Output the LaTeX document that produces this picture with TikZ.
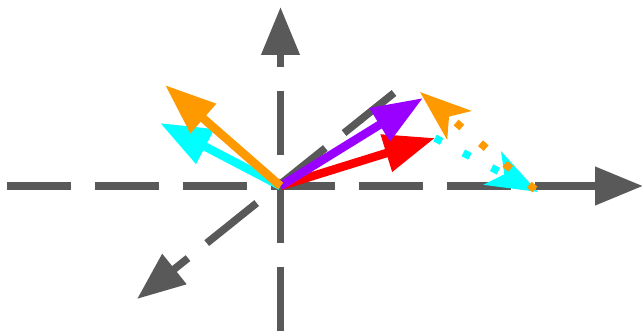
\documentclass[tikz,border=0pt]{standalone}
\usepackage{tikz}
\usetikzlibrary{arrows.meta}
\definecolor{axisgray}{RGB}{89,89,89}
\definecolor{vorange}{RGB}{255,153,0}
\definecolor{vcyan}{RGB}{0,255,255}
\definecolor{vpurple}{RGB}{153,0,255}
\definecolor{vred}{RGB}{255,0,0}
\tikzset{axis/.style={draw=axisgray,line width=7.5pt,dash pattern=on 64pt off 24pt,-{Triangle[length=48pt,width=37pt]}},
  vec/.style={line width=8.5pt,-{Triangle[length=51pt,width=37pt]}},
  dotvec/.style={line width=7.5pt,dash pattern=on 7.5pt off 24.5pt,-{Stealth[length=51pt,width=37pt,inset=13pt]}}}
\begin{document}
\begin{tikzpicture}[x=1pt,y=-1pt,line join=round]
\useasboundingbox (0,0) rectangle (643,331);
% --- axes
\coordinate (O) at (280.5,186);
\coordinate (xl) at (7,186); \coordinate (xr) at (643,186);
\coordinate (yb) at (280.5,331); \coordinate (yt) at (280.5,7);
\coordinate (zb) at (394,93); \coordinate (zf) at (137,299);
\draw[axis] (xl) -- (xr);
\draw[axis] (yb) -- (yt);
\draw[axis] (zb) -- (zf);
% --- vectors from the origin
\coordinate (r) at (435,138); \coordinate (p) at (423,98);
\coordinate (c) at (160,123); \coordinate (o) at (165,85);
\draw[vec,vred] (O) -- (r);
\draw[vec,vpurple] (O) -- (p);
\draw[vec,vcyan] (O) -- (c);
\draw[vec,vorange] (O) -- (o);
% --- shifted copies: red - cyan + orange
\coordinate (c2) at (538,192); \coordinate (o1) at (535,189.5); \coordinate (o2) at (420,92);
\draw[dotvec,vcyan] (r) -- (c2);
\draw[dotvec,vorange] (o1) -- (o2);
\end{tikzpicture}
\end{document}
